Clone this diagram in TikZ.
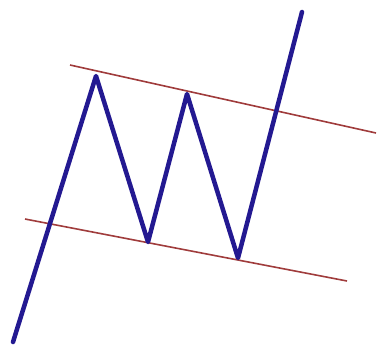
\documentclass[tikz,border=0pt]{standalone}

\definecolor{priceblue}{RGB}{35,25,145}
\definecolor{chanred}{RGB}{160,60,60}

\begin{document}
\begin{tikzpicture}[x=1pt, y=-1pt,
                    channel/.style={draw=chanred, line width=1.6pt},
                    price/.style={draw=priceblue, line width=4.5pt, line cap=round, line join=round}]
                        \useasboundingbox (0, 0) rectangle (379, 349);
                        % Channel points:
                        \coordinate (U1) at (70, 65);
                        \coordinate (U2) at (376, 133);
                        \coordinate (L1) at (25, 219);
                        \coordinate (L2) at (347, 281);
                        % Price points:
                        \coordinate (P0) at (13, 342);
                        \coordinate (P1) at (96, 76);
                        \coordinate (P2) at (148, 242);
                        \coordinate (P3) at (187, 94);
                        \coordinate (P4) at (238, 258);
                        \coordinate (P5) at (302, 12);
                        % Lines:
                        \draw[channel] (U1) -- (U2);
                        \draw[channel] (L1) -- (L2);
                        \draw[price] (P0) -- (P1) -- (P2) -- (P3) -- (P4) -- (P5);
                    \end{tikzpicture}
\end{document}
